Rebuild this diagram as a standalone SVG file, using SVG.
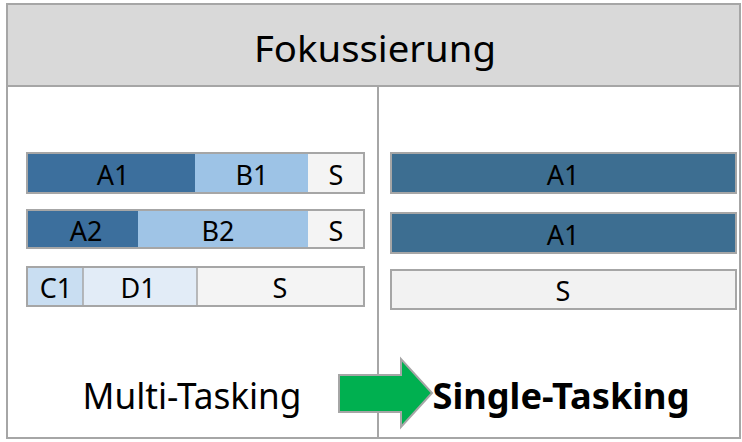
<svg xmlns="http://www.w3.org/2000/svg" width="742" height="442" viewBox="0 0 742 442">
<style>
.frame{fill:none;stroke:#a6a6a6;stroke-width:2}
.seg{stroke:none}
.box{fill:none;stroke:#a6a6a6;stroke-width:2}
.lbl{font-family:"Noto Sans","Open Sans",sans-serif;font-size:27px;fill:#000;text-anchor:middle}
.big{font-family:"Noto Sans","Open Sans",sans-serif;font-size:36px;fill:#000;text-anchor:middle}
</style>
<rect x="0" y="0" width="742" height="442" fill="#ffffff"/>
<g id="header">
<rect x="7" y="4" width="733" height="82" fill="#d9d9d9" stroke="#a6a6a6" stroke-width="2"/>
<text class="big" x="375" y="62" font-size="38" textLength="242" lengthAdjust="spacingAndGlyphs">Fokussierung</text>
</g>
<g id="frame">
<rect class="frame" x="7" y="86" width="733" height="352"/>
<line x1="378" y1="86" x2="378" y2="438" stroke="#a6a6a6" stroke-width="2"/>
</g>
<g id="multi-row1">
<rect class="seg" x="27" y="153" width="168" height="40" fill="#3c6f9d"/>
<rect class="seg" x="195" y="153" width="113" height="40" fill="#9dc3e6"/>
<rect class="seg" x="308" y="153" width="56" height="40" fill="#f4f4f4"/>
<rect class="box" x="27" y="153" width="337" height="40"/>
<text class="lbl" x="113" y="185">A1</text>
<text class="lbl" x="252" y="185">B1</text>
<text class="lbl" x="336" y="185">S</text>
</g>
<g id="multi-row2">
<rect class="seg" x="27" y="210" width="111" height="38" fill="#3c6f9d"/>
<rect class="seg" x="138" y="210" width="170" height="38" fill="#9fc4e6"/>
<rect class="seg" x="308" y="210" width="56" height="38" fill="#f4f4f4"/>
<rect class="box" x="27" y="210" width="337" height="38"/>
<text class="lbl" x="86" y="241">A2</text>
<text class="lbl" x="218" y="241">B2</text>
<text class="lbl" x="336" y="241">S</text>
</g>
<g id="multi-row3">
<rect class="seg" x="27" y="267" width="56" height="39" fill="#c9def2"/>
<rect class="seg" x="83" y="267" width="114" height="39" fill="#e2ecf7"/>
<rect class="seg" x="197" y="267" width="167" height="39" fill="#f4f4f4"/>
<rect class="box" x="27" y="267" width="337" height="39"/>
<line x1="83" y1="267" x2="83" y2="306" stroke="#a6a6a6" stroke-width="1.5"/>
<line x1="197" y1="267" x2="197" y2="306" stroke="#a6a6a6" stroke-width="1.5"/>
<text class="lbl" x="56" y="298">C1</text>
<text class="lbl" x="138" y="298">D1</text>
<text class="lbl" x="280" y="298">S</text>
</g>
<g id="single-row1">
<rect x="391" y="153" width="345" height="40" fill="#3d6e91" stroke="#a6a6a6" stroke-width="2"/>
<text class="lbl" x="563" y="185">A1</text>
</g>
<g id="single-row2">
<rect x="391" y="213" width="345" height="40" fill="#3d6e91" stroke="#a6a6a6" stroke-width="2"/>
<text class="lbl" x="563" y="245">A1</text>
</g>
<g id="single-row3">
<rect x="391" y="270" width="345" height="39" fill="#f2f2f2" stroke="#a6a6a6" stroke-width="2"/>
<text class="lbl" x="563" y="301">S</text>
</g>
<g id="label-multi">
<text class="big" x="192" y="409" textLength="219" lengthAdjust="spacingAndGlyphs">Multi-Tasking</text>
</g>
<g id="connectors">
<polygon points="339,375 401,375 401,359 432,393 401,427 401,412 339,412" fill="#00b050" stroke="#a6a6a6" stroke-width="2" stroke-linejoin="miter"/>
</g>
<g id="label-single">
<text class="big" x="561" y="409" font-weight="bold" textLength="257" lengthAdjust="spacingAndGlyphs">Single-Tasking</text>
</g>
</svg>
